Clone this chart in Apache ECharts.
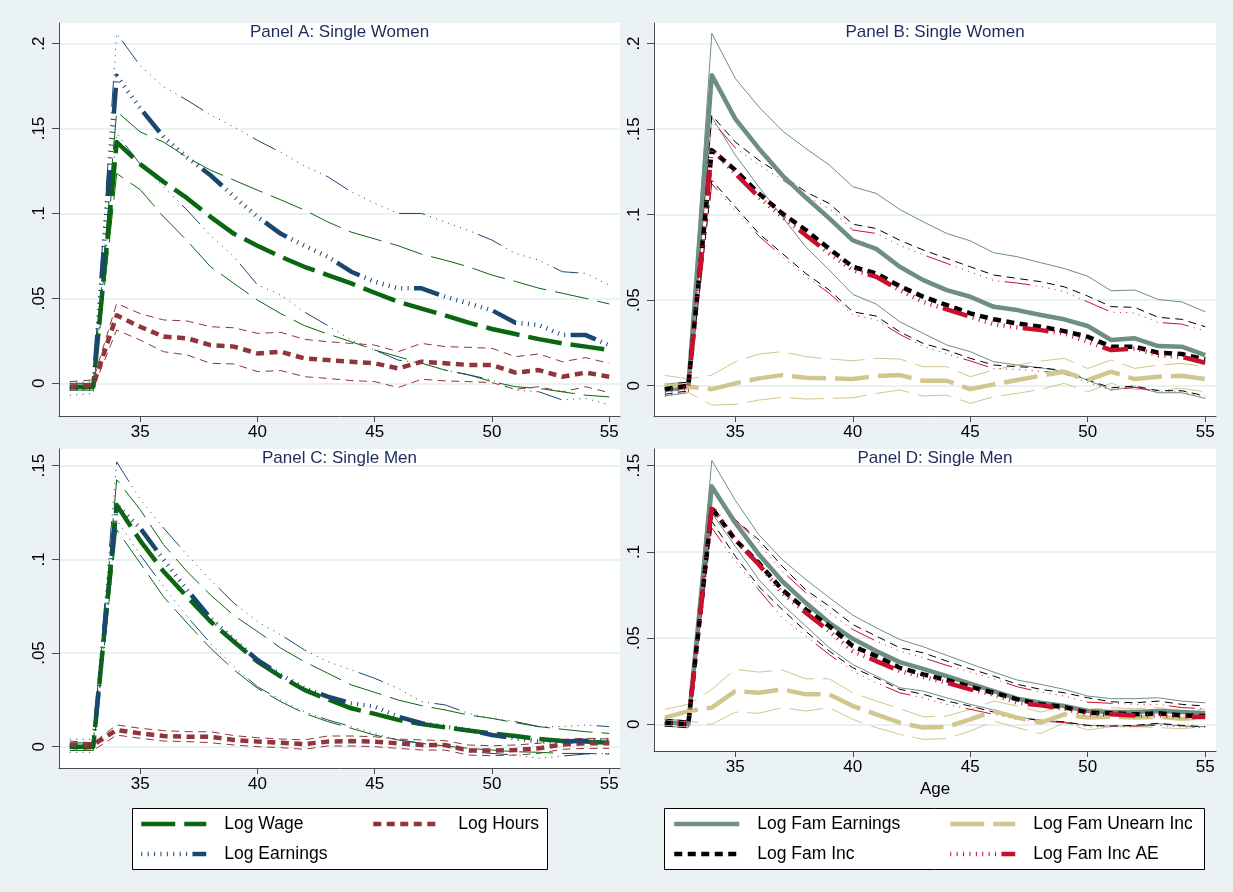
<!DOCTYPE html>
<html><head><meta charset="utf-8">
<script src="https://cdn.jsdelivr.net/npm/echarts@6/dist/echarts.min.js"></script>
<style>html,body{margin:0;padding:0;background:#eaf2f3}#c{width:1233px;height:892px}</style>
</head><body><div id="c"></div><script>
const ages = [32,33,34,35,36,37,38,39,40,41,42,43,44,45,46,47,48,49,50,51,52,53,54,55];
const xTicks = [35,40,45,50,55];
const yTicksTop = [0,0.05,0.1,0.15,0.2];
const yTicksBottom = [0,0.05,0.1,0.15];

// Panel A: Single Women
const aWage   = [-0.002,-0.002,0.142,0.129,0.1186,0.109,0.098,0.088,0.081,0.0745,0.0686,0.0637,0.0588,0.0533,0.048,0.044,0.040,0.0357,0.032,0.029,0.026,0.0235,0.0216,0.0196];
const aWageHi = [0.000,0.000,0.160,0.148,0.142,0.133,0.1255,0.1196,0.1137,0.108,0.102,0.095,0.089,0.085,0.081,0.076,0.0725,0.0686,0.0637,0.060,0.056,0.053,0.050,0.0467];
const aWageLo = [-0.004,-0.004,0.1235,0.114,0.098,0.084,0.0686,0.0588,0.049,0.041,0.034,0.029,0.0245,0.0196,0.0157,0.0118,0.0078,0.005,0.001,-0.002,-0.003,-0.005,-0.007,-0.008];
const aHours   = [-0.002,-0.001,0.040,0.0333,0.0275,0.0265,0.0225,0.0216,0.0176,0.0186,0.0147,0.0137,0.0127,0.0118,0.0088,0.0127,0.0118,0.0108,0.0108,0.0063,0.0078,0.0039,0.0063,0.0039];
const aHoursHi = [0.001,0.002,0.047,0.041,0.0373,0.0367,0.0333,0.0327,0.0294,0.030,0.0259,0.0245,0.0235,0.0225,0.0186,0.0235,0.0216,0.0212,0.0206,0.0157,0.0173,0.0127,0.0151,0.0118];
const aHoursLo = [-0.004,-0.003,0.0314,0.0255,0.0186,0.0167,0.0118,0.0114,0.0069,0.0075,0.0039,0.0029,0.0016,0.001,-0.0025,0.0024,0.0014,0.001,0.0004,-0.0035,-0.002,-0.005,-0.002,-0.0055];
const aEarn   = [-0.003,-0.003,0.181,0.162,0.145,0.133,0.1225,0.110,0.098,0.088,0.081,0.0745,0.0657,0.0598,0.0559,0.0559,0.051,0.047,0.043,0.0357,0.0343,0.0284,0.0284,0.0225];
const aEarnHi = [0.000,0.001,0.206,0.187,0.1745,0.1667,0.158,0.151,0.143,0.136,0.128,0.1216,0.1127,0.106,0.100,0.100,0.095,0.090,0.0843,0.0765,0.0725,0.0657,0.0647,0.0578];
const aEarnLo = [-0.007,-0.006,0.147,0.129,0.1157,0.102,0.087,0.0745,0.058,0.052,0.042,0.034,0.0255,0.0196,0.0137,0.0118,0.0078,0.005,0.002,-0.004,-0.005,-0.0098,-0.0088,-0.0127];

// Panel B: Single Women
const bFamEarn   = [-0.0025,-0.0006,0.1815,0.156,0.1387,0.123,0.110,0.0978,0.085,0.080,0.0695,0.0617,0.0559,0.052,0.0461,0.0442,0.0413,0.0388,0.0349,0.0267,0.0277,0.0232,0.0228,0.0179];
const bFamEarnHi = [0.001,0.002,0.206,0.1796,0.163,0.149,0.1387,0.129,0.1163,0.1124,0.103,0.0958,0.089,0.0847,0.0777,0.0754,0.0719,0.0685,0.064,0.0555,0.0559,0.0504,0.049,0.0432];
const bFamEarnLo = [-0.006,-0.004,0.157,0.1348,0.1163,0.0987,0.0812,0.0676,0.0534,0.0477,0.0374,0.0306,0.0238,0.0199,0.014,0.0121,0.0105,0.0082,0.0033,-0.0025,-0.0006,-0.0041,-0.0041,-0.0074];
const bUnearn   = [0.0004,-0.0006,-0.002,0.0014,0.0043,0.0062,0.0047,0.0043,0.0039,0.0056,0.0062,0.0029,0.0029,-0.002,0.0008,0.0033,0.0058,0.0082,0.0033,0.0082,0.0039,0.0053,0.0058,0.0039];
const bUnearnHi = [0.006,0.004,0.0062,0.014,0.0185,0.0199,0.017,0.0156,0.0146,0.016,0.0156,0.0111,0.0111,0.0053,0.0092,0.0121,0.0144,0.016,0.0101,0.015,0.0101,0.0121,0.013,0.0111];
const bUnearnLo = [-0.002,-0.004,-0.0113,-0.0109,-0.0084,-0.0068,-0.0078,-0.0074,-0.007,-0.0045,-0.0025,-0.006,-0.0055,-0.0103,-0.0064,-0.0045,-0.0021,0.0014,-0.0035,0.0014,-0.0021,-0.0025,-0.0016,-0.0035];
const bFamInc   = [-0.002,0.000,0.1377,0.126,0.1124,0.1007,0.091,0.080,0.0695,0.0656,0.0582,0.052,0.0471,0.0423,0.0388,0.0364,0.0345,0.0319,0.0286,0.0228,0.0228,0.0193,0.0185,0.0154];
const bFamIncHi = [0.001,0.002,0.158,0.1425,0.1318,0.123,0.1133,0.1065,0.0944,0.0919,0.085,0.0793,0.0744,0.0695,0.0647,0.0627,0.0608,0.0578,0.0524,0.0462,0.0458,0.040,0.0388,0.0345];
const bFamIncLo = [-0.005,-0.003,0.120,0.1046,0.089,0.0773,0.0656,0.0559,0.0432,0.0407,0.0315,0.0247,0.0208,0.016,0.0121,0.0111,0.0105,0.0088,0.0033,-0.0012,-0.0002,-0.0029,-0.0029,-0.006];
const bAE   = [-0.003,-0.001,0.138,0.124,0.1104,0.0987,0.088,0.0773,0.0676,0.0637,0.0559,0.049,0.0446,0.0403,0.036,0.0341,0.0325,0.0306,0.0257,0.0208,0.0218,0.0179,0.0169,0.0134];
const bAEHi = [0.000,0.001,0.155,0.139,0.129,0.1205,0.111,0.1035,0.091,0.089,0.082,0.0765,0.0715,0.0665,0.0615,0.060,0.058,0.055,0.049,0.043,0.0425,0.037,0.036,0.032];
const bAELo = [-0.006,-0.004,0.118,0.1025,0.0875,0.0755,0.064,0.054,0.0415,0.0385,0.030,0.023,0.0185,0.0145,0.010,0.0095,0.0085,0.007,0.002,-0.0025,-0.001,-0.0035,-0.0035,-0.0065];

// Panel C: Single Men
const cWage   = [0,0,0.129,0.110,0.0935,0.080,0.0668,0.056,0.0454,0.0374,0.0303,0.0253,0.0205,0.0175,0.0143,0.0121,0.0103,0.0086,0.0071,0.0057,0.0041,0.003,0.0027,0.0021];
const cWageHi = [0.002,0.002,0.1425,0.1265,0.1078,0.0935,0.081,0.070,0.0615,0.0526,0.0454,0.0392,0.033,0.029,0.0249,0.0219,0.0196,0.0169,0.0151,0.0128,0.0107,0.0093,0.008,0.0071];
const cWageLo = [-0.002,-0.002,0.1158,0.098,0.080,0.066,0.0526,0.041,0.0312,0.024,0.0178,0.0134,0.0098,0.0062,0.0036,0.0018,0.0004,-0.0009,-0.0018,-0.0027,-0.003,-0.0036,-0.0036,-0.0039];
const cHours   = [0.001,0.001,0.0089,0.0071,0.0057,0.0053,0.0053,0.0036,0.0027,0.0021,0.0014,0.0027,0.003,0.0027,0.0018,0.0009,0.0009,-0.0021,-0.0021,-0.0018,-0.0009,0.0012,0.0018,0.0018];
const cHoursHi = [0.003,0.002,0.0116,0.0098,0.0086,0.008,0.008,0.0059,0.0048,0.0041,0.0036,0.0057,0.0057,0.0053,0.0041,0.0036,0.0032,0.0009,0.0005,0.0009,0.0018,0.0039,0.0045,0.0041];
const cHoursLo = [-0.001,-0.002,0.0062,0.0045,0.003,0.0027,0.0021,0.0009,0,-0.0005,-0.0014,0.0004,0.0004,0,-0.0009,-0.0018,-0.0018,-0.0045,-0.0048,-0.0045,-0.0036,-0.0014,-0.0009,-0.0009];
const cEarn   = [0,0.001,0.129,0.1167,0.0998,0.0837,0.0686,0.057,0.0463,0.0383,0.0312,0.0267,0.0232,0.0214,0.016,0.0125,0.0107,0.0089,0.0062,0.0045,0.0027,0.0027,0.0032,0.0036];
const cEarnHi = [0.004,0.004,0.152,0.132,0.1167,0.1024,0.089,0.0766,0.0668,0.0597,0.0517,0.0454,0.041,0.0365,0.0312,0.024,0.0223,0.0178,0.0151,0.0134,0.0107,0.0107,0.0116,0.0107];
const cEarnLo = [-0.003,-0.003,0.121,0.1024,0.0855,0.0695,0.0552,0.0428,0.032,0.0249,0.0187,0.0143,0.0107,0.0071,0.0036,0.0018,0,-0.0027,-0.0036,-0.0045,-0.0062,-0.005,-0.0039,-0.0036];

// Panel D: Single Men
const dFamEarn   = [0.0014,0,0.138,0.1168,0.0986,0.083,0.0705,0.0589,0.0496,0.0425,0.0361,0.0322,0.028,0.0236,0.0193,0.0149,0.0125,0.0106,0.0077,0.0071,0.0071,0.0077,0.0071,0.0064];
const dFamEarnHi = [0.003,0.002,0.153,0.130,0.110,0.0956,0.084,0.0735,0.0633,0.056,0.0492,0.045,0.040,0.0351,0.0303,0.0257,0.0232,0.0203,0.0164,0.0149,0.0149,0.0154,0.0135,0.0125];
const dFamEarnLo = [-0.001,-0.002,0.1226,0.1033,0.084,0.0695,0.057,0.0444,0.0347,0.028,0.0212,0.0193,0.0154,0.0116,0.0083,0.0042,0.0025,0.0014,-0.0006,-0.001,-0.001,0.0004,-0.001,-0.0014];
const dUnearn   = [0.0039,0.0077,0.0097,0.0193,0.0183,0.0203,0.0174,0.0174,0.0106,0.0058,0.001,-0.0019,-0.0014,0.0029,0.0077,0.0039,0.001,0.0058,0.0039,0.0044,0.0039,0.0044,0.0033,0.0039];
const dUnearnHi = [0.0087,0.0116,0.0203,0.0319,0.0303,0.0315,0.0264,0.0264,0.0183,0.0135,0.0091,0.0044,0.0048,0.0087,0.0135,0.0106,0.0071,0.0106,0.0087,0.0097,0.0091,0.0097,0.0077,0.0087];
const dUnearnLo = [-0.0006,0.0019,0,0.0071,0.0064,0.0097,0.0077,0.0097,0.0029,-0.0019,-0.0058,-0.0087,-0.0083,-0.0039,0.0019,-0.0019,-0.0054,0.001,-0.0033,-0.0014,-0.0014,-0.0019,-0.0025,-0.0014];
const dFamInc   = [0.001,0,0.1255,0.107,0.0936,0.078,0.0666,0.057,0.0454,0.0396,0.0328,0.029,0.0257,0.0218,0.0183,0.0145,0.0116,0.01,0.0068,0.0064,0.0058,0.0064,0.0052,0.0048];
const dFamIncHi = [0.003,0.002,0.138,0.1187,0.107,0.0917,0.078,0.0685,0.0579,0.0512,0.0444,0.0415,0.0367,0.0322,0.028,0.0232,0.0203,0.0183,0.0154,0.0131,0.0125,0.0135,0.0116,0.0106];
const dFamIncLo = [-0.001,-0.002,0.1178,0.0975,0.080,0.0666,0.054,0.0425,0.0328,0.027,0.0203,0.0174,0.0135,0.0106,0.0071,0.0039,0.0023,0.0014,-0.0006,-0.001,-0.0006,0.0006,-0.0006,-0.0014];
const dAE   = [0.001,0,0.1264,0.107,0.0927,0.0763,0.0647,0.054,0.0425,0.0367,0.0309,0.0276,0.0241,0.0203,0.0174,0.0125,0.011,0.0091,0.0058,0.0058,0.0052,0.0052,0.0044,0.0042];
const dAEHi = [0.003,0.002,0.1396,0.1187,0.105,0.0888,0.0763,0.0647,0.055,0.0483,0.0425,0.0386,0.0342,0.0303,0.0264,0.0218,0.0187,0.0164,0.0129,0.0122,0.0116,0.0116,0.0097,0.0091];
const dAELo = [-0.001,-0.002,0.1139,0.0946,0.078,0.0618,0.0512,0.0405,0.0309,0.0241,0.0183,0.0154,0.0116,0.0087,0.0058,0.0029,0.0019,0.001,-0.0014,-0.0014,-0.001,-0.0006,-0.0014,-0.002];

const FONT = "'Liberation Sans', Arial, sans-serif";
const LONG = [34, 9];
const SHORT = [8, 5.5];
const DOTDASH = [1,5.4,1,5.4,1,5.4,1,5.4,1,5.4,1,5.4,1,5.4,1,5.4,26,5.4];
const STY = {
  'Log Wage':           {color:'#0a660f', dash:LONG},
  'Log Hours':          {color:'#90353b', dash:SHORT},
  'Log Earnings':       {color:'#1a476f', dash:DOTDASH},
  'Log Fam Earnings':   {color:'#6e8e84', dash:'solid'},
  'Log Fam Unearn Inc': {color:'#d2c68f', dash:LONG},
  'Log Fam Inc':        {color:'#000000', dash:SHORT},
  'Log Fam Inc AE':     {color:'#c8102e', dash:DOTDASH}
};
const MAINW = 4.5, CIW = 1;

function line(gi, name, vals, sty, w) {
  return {
    type:'line', name, xAxisIndex:gi, yAxisIndex:gi,
    data: ages.map((a,i)=>[a, vals[i]]),
    symbol:'none', silent:true, animation:false,
    lineStyle:{color:sty.color, width:w, type:sty.dash, cap:'butt', join:'round'},
    itemStyle:{color:sty.color}
  };
}
const panels = [
  [['Log Wage',aWage,aWageLo,aWageHi],['Log Hours',aHours,aHoursLo,aHoursHi],['Log Earnings',aEarn,aEarnLo,aEarnHi]],
  [['Log Fam Earnings',bFamEarn,bFamEarnLo,bFamEarnHi],['Log Fam Unearn Inc',bUnearn,bUnearnLo,bUnearnHi],['Log Fam Inc',bFamInc,bFamIncLo,bFamIncHi],['Log Fam Inc AE',bAE,bAELo,bAEHi]],
  [['Log Wage',cWage,cWageLo,cWageHi],['Log Hours',cHours,cHoursLo,cHoursHi],['Log Earnings',cEarn,cEarnLo,cEarnHi]],
  [['Log Fam Earnings',dFamEarn,dFamEarnLo,dFamEarnHi],['Log Fam Unearn Inc',dUnearn,dUnearnLo,dUnearnHi],['Log Fam Inc',dFamInc,dFamIncLo,dFamIncHi],['Log Fam Inc AE',dAE,dAELo,dAEHi]]
];
const series = [];
panels.forEach((p, gi) => {
  p.forEach(s => {
    series.push(line(gi, s[0]+' lower '+gi, s[2], STY[s[0]], CIW));
    series.push(line(gi, s[0]+' upper '+gi, s[3], STY[s[0]], CIW));
  });
  p.forEach(s => series.push(line(gi, s[0], s[1], STY[s[0]], MAINW)));
});

const grids = [
  {left:59, top:23, width:561, height:393},
  {left:654, top:23, width:562, height:393},
  {left:59, top:449, width:561, height:319},
  {left:654, top:449, width:562, height:302}
].map(g => Object.assign(g, {show:true, backgroundColor:'#ffffff', borderWidth:0}));

const yRanges = [[-0.01924,0.2121],[-0.0177,0.212],[-0.01138,0.1589],[-0.01546,0.1597]];
const AXC = '#4a4a4a';
const fmt = v => v === 0 ? '0' : String(v).replace(/^0/, '');
const xAxes = grids.map((g, i) => ({
  gridIndex:i, type:'value', min:31.54, max:55.46,
  axisLine:{show:true, onZero:false, lineStyle:{color:AXC, width:1}},
  axisTick:{show:true, length:6, customValues:xTicks, lineStyle:{color:AXC}},
  axisLabel:{customValues:xTicks, fontSize:17, color:'#000', fontFamily:FONT, margin:8},
  splitLine:{show:false},
  name: i === 3 ? 'Age' : '', nameLocation:'middle', nameGap:30,
  nameTextStyle:{fontSize:17, color:'#000', fontFamily:FONT}
}));
const yAxes = grids.map((g, i) => {
  const t = i < 2 ? yTicksTop : yTicksBottom;
  return {
    gridIndex:i, type:'value', min:yRanges[i][0], max:yRanges[i][1],
    axisLine:{show:true, onZero:false, lineStyle:{color:AXC, width:1}},
    axisTick:{show:true, length:7, customValues:t, lineStyle:{color:AXC}},
    axisLabel:{customValues:t, rotate:90, formatter:fmt, fontSize:17, color:'#000', fontFamily:FONT, margin:11},
    splitLine:{show:true, lineStyle:{color:'#e2ecee', width:1.5}}
  };
});

const titleNames = ['Panel A: Single Women','Panel B: Single Women','Panel C: Single Men','Panel D: Single Men'];
const titles = grids.map((g, i) => ({
  text:titleNames[i], left:g.left + g.width/2, top:g.top + 0.5, textAlign:'center', padding:0,
  textStyle:{fontSize:17, fontWeight:'normal', color:'#1c2d5c', fontFamily:FONT}
}));

const legendPos = [
  ['Log Wage', 139, 824], ['Log Hours', 371, 824], ['Log Earnings', 139, 854],
  ['Log Fam Earnings', 672, 824], ['Log Fam Unearn Inc', 948, 824],
  ['Log Fam Inc', 672, 854], ['Log Fam Inc AE', 948, 854]
];
const textStart = {'Log Wage':223,'Log Hours':457,'Log Earnings':223,'Log Fam Earnings':756,'Log Fam Unearn Inc':1032,'Log Fam Inc':756,'Log Fam Inc AE':1032};
const legends = legendPos.map(([n, x, y]) => ({
  data:[n], left:x, top:y - 9, padding:0, itemWidth:65, itemHeight:20,
  selectedMode:false,
  itemStyle:{opacity:0, color:'rgba(0,0,0,0)', borderWidth:0},
  lineStyle:{width:MAINW, color:STY[n].color, type:STY[n].dash, cap:'butt'},
  textStyle:{fontSize:17.5, color:'#000', fontFamily:FONT, padding:[0,0,0, textStart[n] - (x + 65 + 5) - 1]}
}));

const chart = echarts.init(document.getElementById('c'), null, {renderer:'canvas'});
chart.setOption({
  backgroundColor:'#eaf2f3',
  animation:false,
  title:titles,
  grid:grids, xAxis:xAxes, yAxis:yAxes,
  legend:legends,
  graphic:[
    {type:'rect', z:-1, shape:{x:132.5, y:808.5, width:415, height:61}, style:{fill:'#fff', stroke:'#000', lineWidth:1}},
    {type:'rect', z:-1, shape:{x:664.5, y:808.5, width:540, height:61}, style:{fill:'#fff', stroke:'#000', lineWidth:1}}
  ],
  series
});
</script></body></html>
